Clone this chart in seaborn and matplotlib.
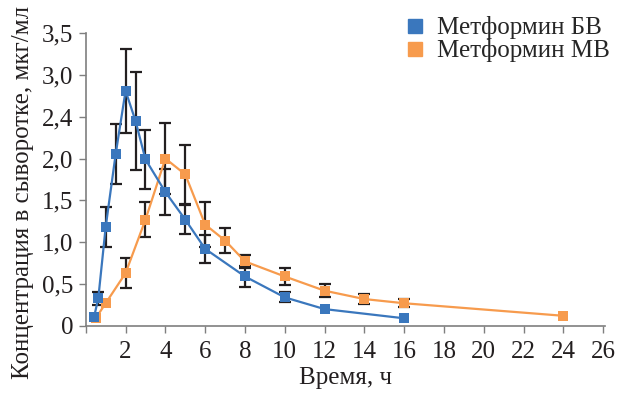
import numpy as np
import pandas as pd
import matplotlib
matplotlib.use('Agg')
import matplotlib.pyplot as plt
import seaborn as sns
from matplotlib.lines import Line2D

# Data
bv_time = [0.42, 0.63, 1, 1.5, 2, 2.5, 3, 4, 5, 6, 8, 10, 12, 16]
bv_conc = [0.11, 0.33, 1.18, 2.05, 2.81, 2.45, 1.99, 1.60, 1.27, 0.92, 0.59, 0.34, 0.20, 0.09]
bv_err = [0, 0.08, 0.24, 0.36, 0.50, 0.59, 0.35, 0.28, 0.17, 0.17, 0.12, 0.06, 0, 0]

mv_time = [0.5, 1, 2, 3, 4, 5, 6, 7, 8, 10, 12, 14, 16, 24]
mv_conc = [0.09, 0.27, 0.63, 1.27, 2.00, 1.81, 1.21, 1.02, 0.77, 0.59, 0.42, 0.32, 0.27, 0.12]
mv_err = [0, 0, 0.18, 0.21, 0.42, 0.35, 0.27, 0.15, 0.08, 0.10, 0.08, 0.06, 0.05, 0]

labels = ['Метформин БВ', 'Метформин МВ']
colors = ['#3a77bd', '#f79b4d']

y_ticks = [0, 0.5, 1.0, 1.5, 2.0, 2.5, 3.0, 3.5]
y_tick_labels = ['0', '0,5', '1,0', '1,5', '2,0', '2,4', '3,0', '3,5']
x_ticks = list(range(0, 27, 2))
x_tick_labels = [''] + [str(t) for t in x_ticks[1:]]

df = pd.concat([
    pd.DataFrame({'time': bv_time, 'conc': bv_conc, 'err': bv_err, 'group': labels[0]}),
    pd.DataFrame({'time': mv_time, 'conc': mv_conc, 'err': mv_err, 'group': labels[1]}),
])

sns.set_style('ticks')
plt.rcParams['font.family'] = ['Liberation Serif', 'DejaVu Serif']

fig = plt.figure(figsize=(6.17, 3.94), dpi=100)
ax = fig.add_axes([0.139, 0.173, 0.842, 0.743])

# error bars (drawn under the markers)
for name, sub in df.groupby('group', sort=False):
    s = sub[sub['err'] > 0]
    ax.errorbar(s['time'], s['conc'], yerr=s['err'], fmt='none', ecolor='#231f20',
                elinewidth=1.6, capsize=4, capthick=1.6, zorder=2)

# orange series first so the blue one sits on top
sns.lineplot(data=df, x='time', y='conc', hue='group', hue_order=labels[::-1],
             palette=colors[::-1], sort=False,
             marker='s', markersize=7, markeredgewidth=0, linewidth=1.6,
             legend=False, ax=ax, zorder=3)
for ln in ax.lines:
    ln.set_clip_on(False)

ax.set_xlim(0, 26.1)
ax.set_ylim(0, 3.5)
ax.set_xticks(x_ticks)
ax.set_xticklabels(x_tick_labels)
ax.set_yticks(y_ticks)
ax.set_yticklabels(y_tick_labels)
ax.tick_params(axis='both', labelsize=18, length=5, width=1, color='#7f7f7f', colors='#231f20')
ax.tick_params(axis='x', pad=6)
ax.tick_params(axis='y', pad=4)
for sp in ['top', 'right']:
    ax.spines[sp].set_visible(False)
for sp in ['left', 'bottom']:
    ax.spines[sp].set_color('#7f7f7f')
    ax.spines[sp].set_linewidth(1.2)

ax.set_xlabel('Время, ч', fontsize=18, color='#231f20', labelpad=3)
ax.set_ylabel('Концентрация в сыворотке, мкг/мл', fontsize=18, color='#231f20')
ax.yaxis.set_label_coords(-0.1, 0.455)

handles = [Line2D([], [], marker='s', ls='none', color=c, markersize=10) for c in colors]
fig.legend(handles=handles, labels=labels, loc='upper right', bbox_to_anchor=(1.015, 1.0),
           frameon=False, fontsize=18, handletextpad=0.4, labelspacing=0.0,
           borderaxespad=0.25, handlelength=1.0)

fig.savefig('out.png', dpi=100)
